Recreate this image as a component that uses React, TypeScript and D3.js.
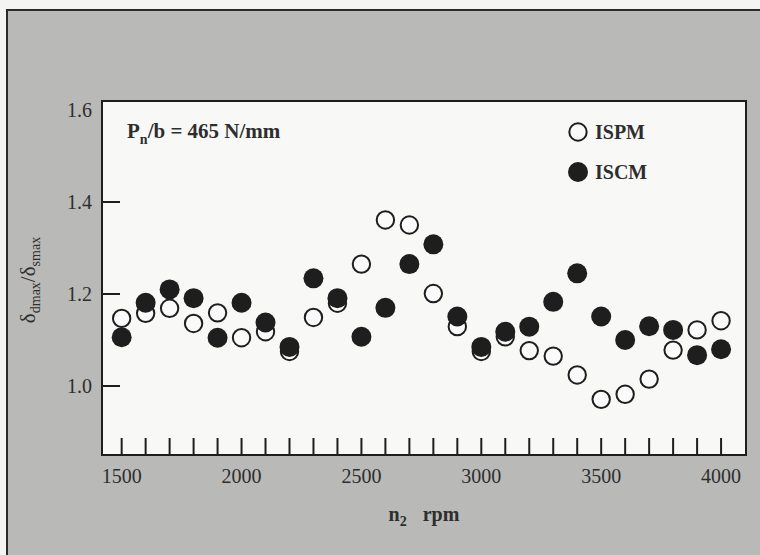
import React from "react";
import * as d3 from "d3";

const rpm = [1500, 1600, 1700, 1800, 1900, 2000, 2100, 2200, 2300, 2400, 2500, 2600, 2700, 2800, 2900, 3000, 3100, 3200, 3300, 3400, 3500, 3600, 3700, 3800, 3900, 4000];
const ispm = [1.147, 1.158, 1.169, 1.136, 1.159, 1.105, 1.118, 1.075, 1.149, 1.180, 1.265, 1.361, 1.350, 1.201, 1.129, 1.075, 1.107, 1.077, 1.065, 1.024, 0.971, 0.982, 1.015, 1.078, 1.122, 1.142];
const iscm = [1.106, 1.181, 1.210, 1.191, 1.105, 1.181, 1.138, 1.085, 1.234, 1.191, 1.107, 1.170, 1.265, 1.308, 1.151, 1.085, 1.118, 1.129, 1.183, 1.245, 1.151, 1.100, 1.130, 1.122, 1.067, 1.080];
const xTickLabels = [1500, 2000, 2500, 3000, 3500, 4000];
const yTickLabels = [1.0, 1.2, 1.4, 1.6];
const yTickMarks = [1.0, 1.2, 1.4];

const W = 760, H = 555;
const left = 102, right = 746, top = 101, bottom = 455;
const FONT = "'Liberation Serif', 'DejaVu Serif', serif";
const TXT = "#2e2e2e";

export default function App() {
  const x = d3.scaleLinear().domain([1418, 4104]).range([left, right]);
  const y = d3.scaleLinear().domain([0.85, 1.6196]).range([bottom, top]);
  const rf = 10;
  const ro = 8.7;
  const ink = "#1e1e1e";
  return (
    <svg width={W} height={H} style={{ position: "absolute", left: 0, top: 0, background: "#f4f4f2" }}>
      <rect x={7} y={10} width={W + 10} height={H + 10} fill="#b9b9b7" stroke="#2a2a2a" strokeWidth={2} />
      <rect x={left} y={top} width={right - left} height={bottom - top} fill="#f8f8f6" stroke={ink} strokeWidth={2} />
      {rpm.map((v) => (
        <line key={"xt" + v} x1={x(v)} x2={x(v)} y1={bottom} y2={bottom - 17} stroke={ink} strokeWidth={2} />
      ))}
      {xTickLabels.map((v) => (
        <text key={"xl" + v} x={x(v)} y={483} textAnchor="middle" fontFamily={FONT} fontSize={20} fill={TXT}>{v}</text>
      ))}
      {yTickMarks.map((v) => (
        <line key={"yt" + v} x1={left} x2={left + 18} y1={y(v)} y2={y(v)} stroke={ink} strokeWidth={2} />
      ))}
      {yTickLabels.map((v) => (
        <text key={"yl" + v} x={92} y={y(v) + 7} textAnchor="end" fontFamily={FONT} fontSize={20} fill={TXT}>{v.toFixed(1)}</text>
      ))}
      <text x={424} y={521} textAnchor="middle" fontFamily={FONT} fontSize={20} fontWeight="bold" fill={TXT}>
        n<tspan fontSize={14} dy={5}>2</tspan><tspan dy={-5} dx={16}>rpm</tspan>
      </text>
      <text transform="translate(35,280) rotate(-90)" textAnchor="middle" fontFamily={FONT} fontSize={21} fill={TXT}>
        δ<tspan fontSize={14} dy={5}>dmax</tspan><tspan dy={-5}>/δ</tspan><tspan fontSize={14} dy={5}>smax</tspan>
      </text>
      <text x={127} y={138} fontFamily={FONT} fontSize={21} fontWeight="bold" fill={TXT}>
        P<tspan fontSize={14} dy={6}>n</tspan><tspan dy={-6}>/b = 465 N/mm</tspan>
      </text>
      <circle cx={578} cy={132} r={ro} fill="#fafafa" stroke={ink} strokeWidth={2} />
      <text x={595} y={139} fontFamily={FONT} fontSize={20} fontWeight="bold" fill={TXT}>ISPM</text>
      <circle cx={578} cy={172} r={rf} fill={ink} />
      <text x={595} y={179} fontFamily={FONT} fontSize={20} fontWeight="bold" fill={TXT}>ISCM</text>
      {rpm.map((v, i) => (
        <circle key={"o" + v} cx={x(v)} cy={y(ispm[i])} r={ro} fill="#fafafa" stroke={ink} strokeWidth={2} />
      ))}
      {rpm.map((v, i) => (
        <circle key={"f" + v} cx={x(v)} cy={y(iscm[i])} r={rf} fill={ink} />
      ))}
    </svg>
  );
}
